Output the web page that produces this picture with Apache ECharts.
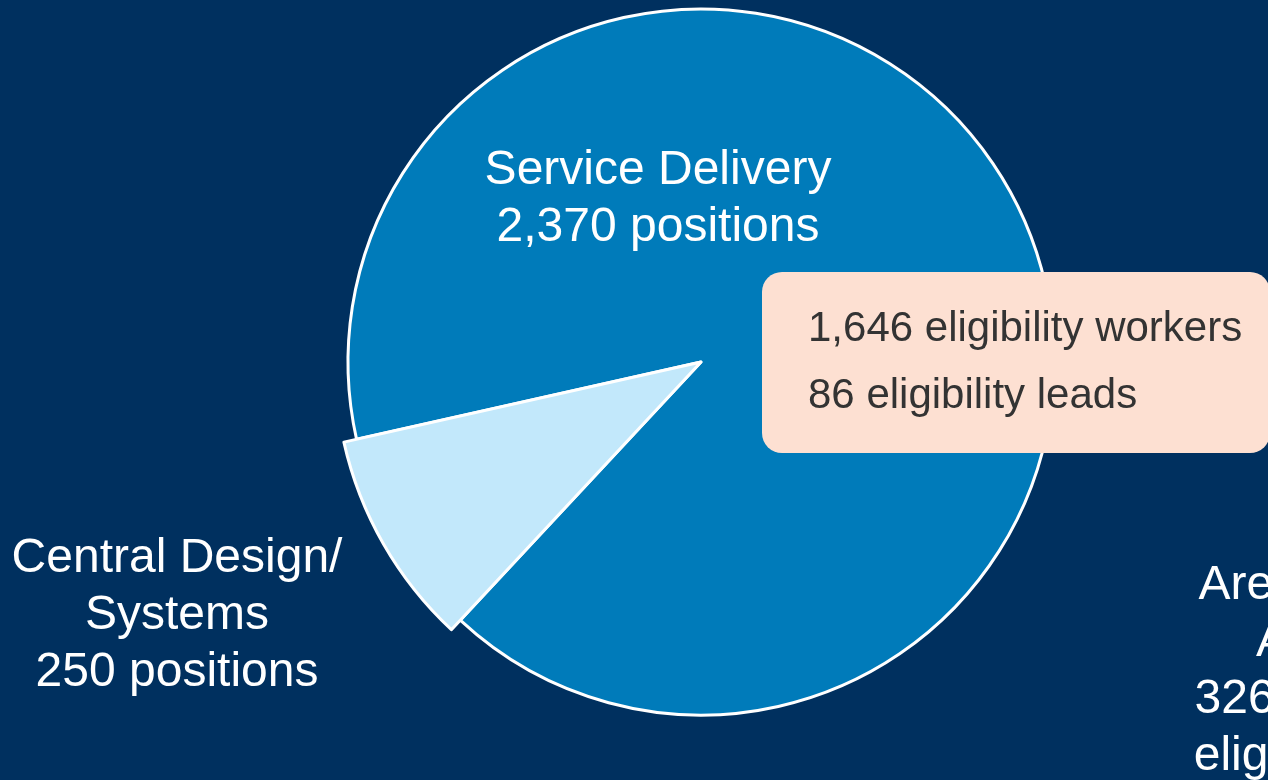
<!DOCTYPE html>
<html>
<head>
<meta charset="utf-8">
<title>Positions</title>
<script src="https://cdn.jsdelivr.net/npm/echarts@6/dist/echarts.min.js"></script>
<style>
    html, body { margin: 0; padding: 0; background: #00305f; }
    #chart { width: 1268px; height: 780px; }
</style>
</head>
<body>
<div id="chart"></div>
<script>
// slice data
var categories = ['Central Design/ Systems', 'Service Delivery'];
var positions = [250, 2370];
var sliceColors = ['#c2e8fb', '#007bba'];

// label text
var centralLabel = ['Central Design/', 'Systems', '250 positions'];
var serviceLabel = ['Service Delivery', '2,370 positions'];
var areaLabel = ['Area Agency', 'Agency', '326 positions', 'eligibility staff'];
var calloutLines = ['1,646 eligibility workers', '86 eligibility leads'];

var chart = echarts.init(document.getElementById('chart'));

var font = '"Liberation Sans", Arial, sans-serif';

// the small slice is drawn a bit larger than the rest of the pie
function sliceData(showIndex) {
    var out = [];
    for (var i = 0; i < categories.length; i++) {
        var visible = (showIndex === null) ? i !== 0 : i === showIndex;
        out.push({
            name: categories[i],
            value: positions[i],
            itemStyle: visible ? {
                color: sliceColors[i],
                borderColor: '#ffffff',
                borderWidth: 3
            } : {
                color: 'transparent',
                borderWidth: 0
            }
        });
    }
    return out;
}

function whiteText(lines, x, y) {
    return {
        type: 'text',
        x: x,
        y: y,
        z: 100,
        silent: true,
        style: {
            text: lines.join('\n'),
            font: '48px ' + font,
            fill: '#ffffff',
            align: 'center',
            verticalAlign: 'top',
            lineHeight: 57
        }
    };
}

var option = {
    backgroundColor: '#00305f',
    animation: false,
    series: [
        {
            type: 'pie',
            center: [701, 362],
            radius: [0, 353],
            startAngle: 227,
            clockwise: true,
            label: {show: false},
            labelLine: {show: false},
            silent: true,
            z: 1,
            data: sliceData(null)
        },
        {
            type: 'pie',
            center: [701, 362],
            radius: [0, 366],
            startAngle: 227,
            clockwise: true,
            label: {show: false},
            labelLine: {show: false},
            silent: true,
            z: 2,
            data: sliceData(0)
        }
    ],
    graphic: [
        whiteText(serviceLabel, 658, 142),
        whiteText(centralLabel, 177, 530),
        whiteText(areaLabel, 1336, 557),
        {
            type: 'rect',
            z: 100,
            silent: true,
            shape: {x: 762, y: 272, width: 508, height: 181, r: 20},
            style: {fill: '#fde0d2'}
        },
        {
            type: 'text',
            x: 808,
            y: 296,
            z: 101,
            silent: true,
            style: {
                text: calloutLines.join('\n'),
                font: '42px ' + font,
                fill: '#333333',
                align: 'left',
                verticalAlign: 'top',
                lineHeight: 67
            }
        }
    ]
};

chart.setOption(option);
</script>
</body>
</html>
